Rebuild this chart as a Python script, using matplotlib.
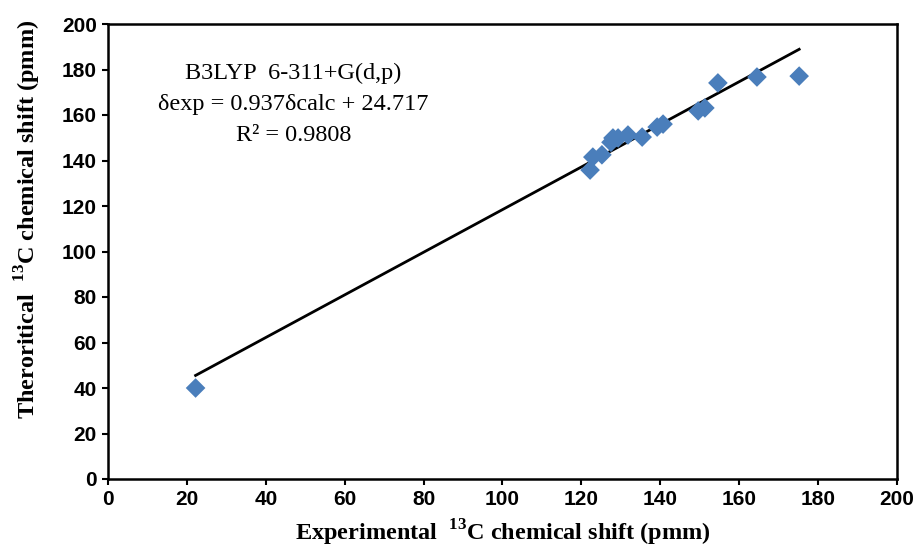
import numpy as np
import matplotlib.pyplot as plt

plt.rcParams['mathtext.fontset'] = 'custom'
plt.rcParams['mathtext.rm'] = 'Liberation Serif'
plt.rcParams['mathtext.bf'] = 'Liberation Serif:bold'

# experimental vs theoretical 13C chemical shifts (ppm)
exp_shift = [22.2, 122.2, 122.9, 125.2, 127.5, 128.0, 129.3, 131.8, 135.4,
             139.2, 140.7, 149.6, 151.3, 154.6, 164.5, 175.2]
theo_shift = [40.0, 135.8, 141.5, 142.5, 148.0, 149.9, 149.9, 151.2, 150.3,
              154.7, 156.0, 161.8, 163.1, 174.1, 176.7, 177.1]

slope = 0.937
intercept = 24.717
r_squared = 0.9808

x_ticks = list(range(0, 201, 20))
y_ticks = list(range(0, 201, 20))

fig = plt.figure(figsize=(9.2, 5.57), dpi=100)
ax = fig.add_axes([108 / 920, 1 - 479 / 557, (897 - 108) / 920, (479 - 24) / 557])

ax.scatter(exp_shift, theo_shift, marker='D', s=100, color='#4A7EBB',
           edgecolors='none', zorder=3)

# linear trend line
fit_x = np.array([min(exp_shift), max(exp_shift)])
ax.plot(fit_x, slope * fit_x + intercept, color='black', linewidth=2.0, zorder=2)

ax.set_xlim(0, 200)
ax.set_ylim(0, 200)
ax.set_xticks(x_ticks)
ax.set_yticks(y_ticks)
for lbl in ax.get_xticklabels() + ax.get_yticklabels():
    lbl.set_fontfamily('Liberation Sans')
    lbl.set_fontweight('bold')
    lbl.set_fontsize(15)
ax.tick_params(direction='out', length=4, width=1.5, pad=4)
for sp in ax.spines.values():
    sp.set_linewidth(1.8)
    sp.set_color('black')

serif = 'Liberation Serif'
ax.set_xlabel(r'Experimental  $^{\mathbf{13}}$C chemical shift (pmm)',
              fontfamily=serif, fontweight='bold', fontsize=17.5, labelpad=6)
ax.set_ylabel(r'Theroritical  $^{\mathbf{13}}$C chemical shift (pmm)',
              fontfamily=serif, fontweight='bold', fontsize=17.5)
ax.yaxis.set_label_coords(-0.083, 0.57)

txt_x = 47
ax.text(txt_x, 178.5, 'B3LYP  6-311+G(d,p)', fontfamily=serif, fontsize=17.5,
        ha='center', va='center')
ax.text(txt_x, 164.6, 'δexp = 0.937δcalc + 24.717', fontfamily=serif, fontsize=17.5,
        ha='center', va='center')
ax.text(txt_x, 150.8, 'R² = %.4f' % r_squared, fontfamily=serif, fontsize=17.5,
        ha='center', va='center')

fig.savefig('out.png', dpi=100)
